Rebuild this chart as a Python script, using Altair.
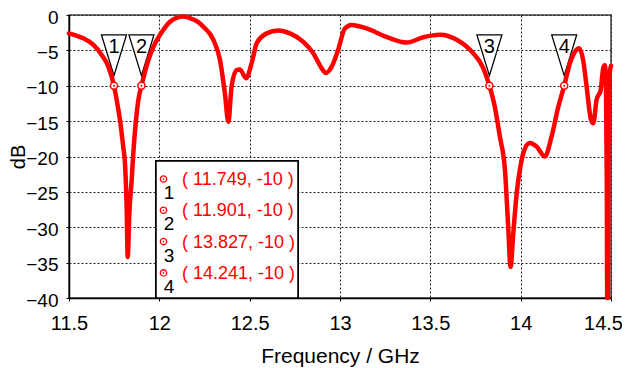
import altair as alt
import pandas as pd

# ---- data ----
freq = [11.500, 11.540, 11.579, 11.634, 11.681, 11.718, 11.749, 11.764, 11.782, 11.800,
        11.810, 11.819, 11.825, 11.834, 11.847, 11.856, 11.871, 11.884, 11.901, 11.921,
        11.939, 11.967, 12.004, 12.059, 12.095, 12.133, 12.170, 12.210, 12.243, 12.299,
        12.336, 12.363, 12.382, 12.400, 12.428, 12.446, 12.480, 12.511, 12.539, 12.594,
        12.658, 12.723, 12.797, 12.852, 12.898, 12.922, 12.954, 12.990, 13.027, 13.064,
        13.147, 13.258, 13.369, 13.461, 13.553, 13.646, 13.737, 13.793, 13.827, 13.857,
        13.885, 13.913, 13.931, 13.944, 13.959, 13.978, 14.000, 14.015, 14.050, 14.088,
        14.134, 14.171, 14.208, 14.241, 14.273, 14.300, 14.324, 14.346, 14.365, 14.389,
        14.402, 14.420, 14.443, 14.457, 14.466, 14.472, 14.477, 14.479, 14.483, 14.486,
        14.490, 14.495, 14.500]
s11 = [-2.6, -2.9, -3.3, -4.2, -5.65, -7.3, -10.0, -12.0, -14.8, -18.6,
       -21.0, -27.1, -34.2, -28.0, -23.3, -19.5, -14.8, -12.0, -10.0, -8.0,
       -6.4, -4.5, -2.8, -0.95, -0.4, -0.2, -0.45, -0.9, -1.65, -3.5,
       -6.4, -11.1, -15.1, -10.1, -7.8, -7.7, -8.95, -6.8, -4.0, -2.6,
       -2.2, -2.6, -3.8, -5.4, -7.5, -8.2, -7.3, -4.9, -1.9, -1.4,
       -1.9, -3.1, -3.9, -3.15, -2.8, -3.5, -5.4, -7.5, -10.0, -13.0,
       -17.2, -21.9, -29.9, -35.6, -30.9, -25.2, -21.2, -19.5, -18.1, -18.6,
       -20.0, -17.2, -13.0, -10.0, -6.8, -5.2, -4.7, -6.4, -10.1, -14.8,
       -15.3, -12.0, -10.6, -7.5, -7.1, -9.0, -25.0, -40.0, -40.0, -20.0,
       -10.0, -7.8, -7.2]

marker_freq = [11.749, 11.901, 13.827, 14.241]
marker_db = [-10, -10, -10, -10]
marker_id = ["1", "2", "3", "4"]

x_ticks = [11.5, 12, 12.5, 13, 13.5, 14, 14.5]
y_ticks = [-40, -35, -30, -25, -20, -15, -10, -5, 0]

FONT = "'Liberation Sans Narrow', 'Arial Narrow', 'Liberation Sans', sans-serif"
RED = "#ff0000"

curve = pd.DataFrame({"f": freq, "db": s11})
marks = pd.DataFrame({"f": marker_freq, "db": marker_db, "id": marker_id})

xs = alt.Scale(domain=[11.5, 14.5], nice=False, zero=False)
ys = alt.Scale(domain=[-40, 0], nice=False, zero=False)

x_axis = alt.Axis(values=x_ticks, format="~g", title="Frequency / GHz",
                  grid=True, gridDash=[2, 2], gridColor="#222", gridWidth=1,
                  tickSize=3, tickColor="black", labelPadding=12, labelFlush=False,
                  labelOverlap=False,
                  labelOffset={"condition": {"test": "datum.value >= 14.5", "value": -8},
                               "value": 0},
                  labelFontSize=20, labelFont=FONT, labelColor="black",
                  titleFontSize=21, titleFont=FONT, titleFontWeight="normal",
                  titleColor="black", titleY=64, titleBaseline="alphabetic",
                  domainColor="black", domainWidth=1.5)
y_axis = alt.Axis(values=y_ticks, title="dB",
                  grid=True, gridDash=[2, 2], gridColor="#222", gridWidth=1,
                  tickSize=3, tickColor="black", labelPadding=8, labelOverlap=False,
                  labelOffset=2,
                  labelFontSize=19, labelFont=FONT, labelColor="black",
                  titleFontSize=20, titleFont=FONT, titleFontWeight="normal",
                  titleColor="black", titleX=-45, titleBaseline="alphabetic",
                  domainColor="black", domainWidth=1.5)

X = alt.X("f:Q", scale=xs, axis=x_axis)
Y = alt.Y("db:Q", scale=ys, axis=y_axis)

tri = alt.Chart(marks).mark_point(
    shape="M-0.614,-1L0.614,-1L0,1Z", size=1656, filled=True, fill="white",
    stroke="black", strokeWidth=1.3, opacity=1
).encode(x=X, y=Y, yOffset=alt.value(-30.5))

tri_txt = alt.Chart(marks).mark_text(
    dy=-38.5, fontSize=20, font=FONT, color="black"
).encode(x=X, y=Y, text="id:N")

line = alt.Chart(curve).mark_line(
    color=RED, strokeWidth=4.5, interpolate="monotone", strokeJoin="round", strokeCap="round"
).encode(x=X, y=Y)

ring = alt.Chart(marks).mark_point(
    shape="circle", size=50, filled=True, fill="white", stroke=RED, strokeWidth=1.5, opacity=1
).encode(x=X, y=Y)
dot = alt.Chart(marks).mark_point(
    shape="circle", size=4, filled=True, color=RED, opacity=1
).encode(x=X, y=Y)

# legend box (pixel positions inside plot area)
box = alt.Chart(marks).mark_rect(
    fill="white", stroke="black", strokeWidth=1.5
).encode(x=alt.value(87), x2=alt.value(229), y=alt.value(146), y2=alt.value(283))

layers = [tri, line, tri_txt, ring, dot, box]
row0, step = 165, 31.3
for i, (f, v, lab) in enumerate(zip(marker_freq, marker_db, marker_id)):
    ry = row0 + i * step
    one = marks.iloc[[i]]
    layers.append(alt.Chart(one).mark_point(
        shape="circle", size=40, filled=True, fill="white", stroke=RED, strokeWidth=1.3, opacity=1
    ).encode(x=alt.value(94.5), y=alt.value(ry - 1)))
    layers.append(alt.Chart(one).mark_point(
        shape="circle", size=3, filled=True, color=RED, opacity=1
    ).encode(x=alt.value(94.5), y=alt.value(ry - 1)))
    layers.append(alt.Chart(one).mark_text(
        fontSize=19, font=FONT, color="black", align="center", baseline="middle"
    ).encode(x=alt.value(100), y=alt.value(ry + 13), text="id:N"))
    layers.append(alt.Chart(one).mark_text(
        fontSize=18, font=FONT, color=RED, align="left", baseline="middle"
    ).encode(x=alt.value(113), y=alt.value(ry),
             text=alt.value(f"( {f:.3f}, {v:g} )")))

chart = alt.layer(*layers).properties(
    width=542, height=283,
    autosize=alt.AutoSizeParams(type="none"),
    padding={"left": 61, "top": 7, "right": 11, "bottom": 70},
    background="white",
).configure_view(stroke="#444", strokeWidth=1.5)

chart.save("out.html", embed_options={"renderer": "svg", "actions": False})
